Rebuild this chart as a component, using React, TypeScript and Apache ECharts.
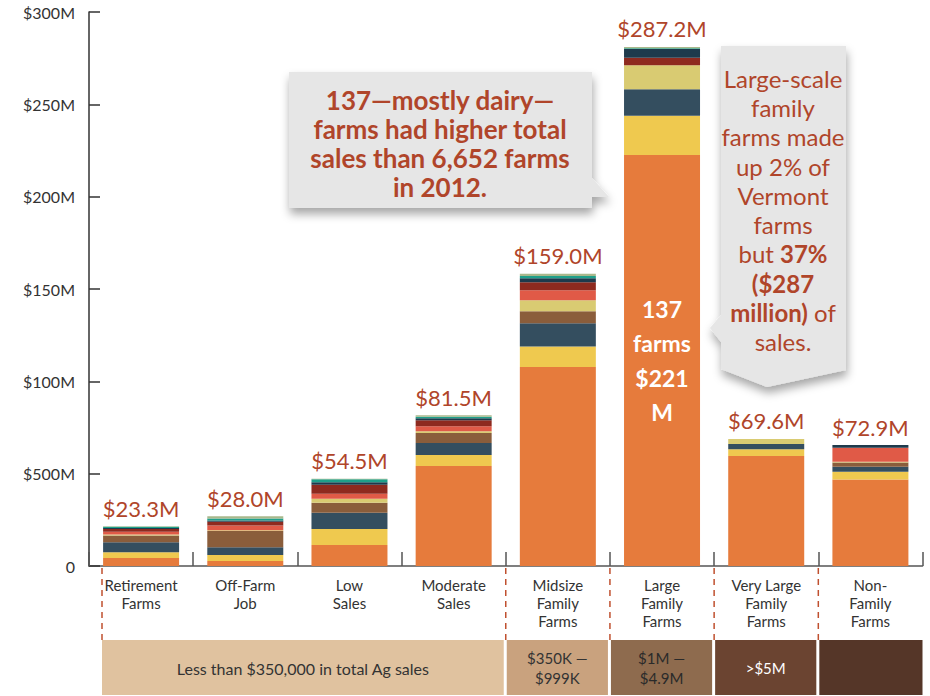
import React, { useEffect, useRef } from "react";
import * as echarts from "echarts";

const categories = [
  "Retirement\nFarms",
  "Off-Farm\nJob",
  "Low\nSales",
  "Moderate\nSales",
  "Midsize\nFamily\nFarms",
  "Large\nFamily\nFarms",
  "Very Large\nFamily\nFarms",
  "Non-\nFamily\nFarms",
];
const totalLabels = ["$23.3M", "$28.0M", "$54.5M", "$81.5M", "$159.0M", "$287.2M", "$69.6M", "$72.9M"];
const yTickLabels = ["0", "$500M", "$100M", "$150M", "$200M", "$250M", "$300M"];

// stacked segments, bottom to top ($M)
const seg1 = [4.3, 2.7, 11.4, 54.1, 107.7, 222.5, 59.6, 46.9];
const seg2 = [3.2, 3.2, 8.7, 6.0, 11.2, 21.3, 3.6, 4.2];
const seg3 = [5.4, 4.3, 8.8, 6.5, 12.5, 14.4, 2.9, 2.7];
const seg4 = [3.6, 8.7, 5.3, 5.4, 6.5, 0, 0, 2.2];
const seg5 = [0.5, 0.5, 2.2, 1.0, 6.0, 13.0, 2.7, 0.5];
const seg6 = [1.6, 2.5, 2.7, 2.7, 5.4, 0, 0, 7.6];
const seg7 = [1.4, 2.0, 4.9, 3.2, 4.3, 4.0, 0, 0];
const seg8 = [0.6, 0.7, 1.4, 1.1, 2.2, 4.7, 0, 1.4];
const seg9 = [0.6, 1.1, 1.6, 0.8, 1.2, 0.5, 0, 0];
const seg10 = [0.3, 1.2, 0.3, 0.9, 1.3, 0.7, 0, 0];
const labelCarrier = [0, 0, 0, 0, 0, 0, 0, 0];

const segments = [seg1, seg2, seg3, seg4, seg5, seg6, seg7, seg8, seg9, seg10];
const segColors = [
  "#E67B3C", "#EFC94F", "#344E5F", "#8A5D3B", "#D9CB72",
  "#E05A47", "#8E2A1F", "#1E3A4C", "#1FA08A", "#A9B88C",
];

const bandLabels = ["Less than $350,000 in total Ag sales", "$350K —\n$999K", "$1M —\n$4.9M", ">$5M", ""];
const bandStart = [0, 4, 5, 6, 7];
const bandEnd = [4, 5, 6, 7, 8];
const bandColors = ["#E0C29F", "#C9A27E", "#8E6B4E", "#6B4431", "#553628"];
const bandTextColors = ["#333333", "#333333", "#2a2a2a", "#ffffff", "#ffffff"];
const bandFontSizes = [16, 15, 15, 15, 15];

const FONT = "Lato, 'Open Sans', sans-serif";
const RUST = "#B0452A";

export default function App() {
  const ref = useRef<HTMLDivElement>(null);
  useEffect(() => {
    document.body.style.margin = "0";
    if (!ref.current) return;
    const chart = echarts.init(ref.current, undefined, { renderer: "svg" });

    const series: any[] = segments.map((d, si) => ({
      type: "bar",
      name: "s" + (si + 1),
      stack: "total",
      barWidth: 76,
      itemStyle: { color: segColors[si] },
      data: d.map((v, i) =>
        si === 0 && i === 5
          ? {
              value: v,
              label: {
                show: true,
                position: "inside",
                formatter: "137\nfarms\n$221\nM",
                color: "#ffffff",
                fontWeight: "bold",
                fontSize: 23,
                lineHeight: 34.5,
                fontFamily: FONT,
              },
            }
          : v
      ),
    }));
    series.push({
      type: "bar",
      name: "total",
      stack: "total",
      barWidth: 76,
      itemStyle: { color: "rgba(0,0,0,0)" },
      label: {
        show: true,
        position: "top",
        distance: 7,
        color: RUST,
        fontSize: 22,
        fontFamily: FONT,
        formatter: (p: any) => totalLabels[p.dataIndex],
      },
      data: labelCarrier,
    });

    chart.setOption({
      animation: false,
      grid: { left: 89, right: 7.5, top: 12, bottom: 130, containLabel: false },
      xAxis: {
        type: "category",
        data: categories,
        axisLine: { lineStyle: { color: "#555", width: 1.5 } },
        axisTick: { show: true, inside: true, length: 14, lineStyle: { color: "#555", width: 1.5 } },
        axisLabel: {
          color: "#333",
          fontSize: 15,
          lineHeight: 18,
          margin: 10,
          fontFamily: FONT,
          interval: 0,
        },
      },
      yAxis: {
        type: "value",
        min: 0,
        max: 300,
        interval: 50,
        splitLine: { show: false },
        axisLine: { show: true, lineStyle: { color: "#333", width: 1.5 } },
        axisTick: { show: true, inside: true, length: 11, lineStyle: { color: "#333", width: 1.5 } },
        axisLabel: {
          color: "#333",
          fontSize: 16,
          margin: 14,
          fontFamily: FONT,
          formatter: (v: number) => yTickLabels[Math.round(v / 50)],
        },
      },
      series,
    });

    const c0 = chart.convertToPixel({ xAxisIndex: 0 }, 0) as number;
    const c1 = chart.convertToPixel({ xAxisIndex: 0 }, 1) as number;
    const w = c1 - c0;
    const bx = (i: number) => c0 - w / 2 + i * w;
    const y0 = chart.convertToPixel({ yAxisIndex: 0 }, 0) as number;

    const graphic: any[] = [];
    bandStart.forEach((s, k) => {
      const x = k === 0 ? bx(s) + 13 : bx(s);
      graphic.push({
        type: "line",
        shape: { x1: x, y1: y0 + 2, x2: x, y2: 640 },
        style: { stroke: "#C0502F", lineWidth: 1.5, lineDash: [6, 5] },
        z: 10,
      });
      const xs = k === 0 ? bx(s) + 13 : bx(s) + 1;
      const xe = k === bandStart.length - 1 ? bx(bandEnd[k]) : bx(bandEnd[k]) - 2;
      graphic.push({
        type: "rect",
        shape: { x: xs, y: 640, width: xe - xs, height: 55 },
        style: { fill: bandColors[k] },
        z: 5,
      });
      if (bandLabels[k]) {
        graphic.push({
          type: "text",
          x: (xs + xe) / 2,
          y: 668,
          style: {
            text: bandLabels[k],
            fill: bandTextColors[k],
            font: `${bandFontSizes[k]}px ${FONT}`,
            align: "center",
            verticalAlign: "middle",
            lineHeight: 20,
          },
          z: 6,
        });
      }
    });

    graphic.push({
      type: "polygon",
      shape: {
        points: [
          [289, 72], [592, 72], [592, 178], [609, 197], [592, 197], [592, 208], [289, 208],
        ],
      },
      style: {
        fill: "#E6E6E6",
        shadowBlur: 10,
        shadowColor: "rgba(0,0,0,0.35)",
        shadowOffsetX: 1,
        shadowOffsetY: 6,
      },
      z: 20,
    });
    graphic.push({
      type: "text",
      x: 440,
      y: 143,
      style: {
        text: "137—mostly dairy—\nfarms had higher total\nsales than 6,652 farms\nin 2012.",
        fill: RUST,
        font: `bold 26px ${FONT}`,
        align: "center",
        verticalAlign: "middle",
        lineHeight: 29,
      },
      z: 21,
    });

    graphic.push({
      type: "polygon",
      shape: {
        points: [
          [721, 46], [846, 46], [846, 370], [767, 387], [721, 369],
          [721, 342], [710, 328], [721, 315],
        ],
      },
      style: {
        fill: "#E6E6E6",
        shadowBlur: 10,
        shadowColor: "rgba(0,0,0,0.35)",
        shadowOffsetX: 1,
        shadowOffsetY: 6,
      },
      z: 20,
    });
    graphic.push({
      type: "text",
      x: 783,
      y: 210,
      style: {
        text:
          "{n|Large-scale}\n{n|family}\n{n|farms made}\n{n|up 2% of}\n{n|Vermont}\n{n|farms}\n{n|but }{b|37%}\n{b|($287}\n{b|million)}{n| of}\n{n|sales.}",
        align: "center",
        verticalAlign: "middle",
        rich: {
          n: { fill: RUST, fontSize: 24, fontFamily: FONT, lineHeight: 29.3 },
          b: { fill: RUST, fontSize: 24, fontWeight: "bold", fontFamily: FONT, lineHeight: 29.3 },
        },
      },
      z: 21,
    });

    chart.setOption({ graphic });

    return () => chart.dispose();
  }, []);
  return <div ref={ref} style={{ width: 930, height: 696 }} />;
}
